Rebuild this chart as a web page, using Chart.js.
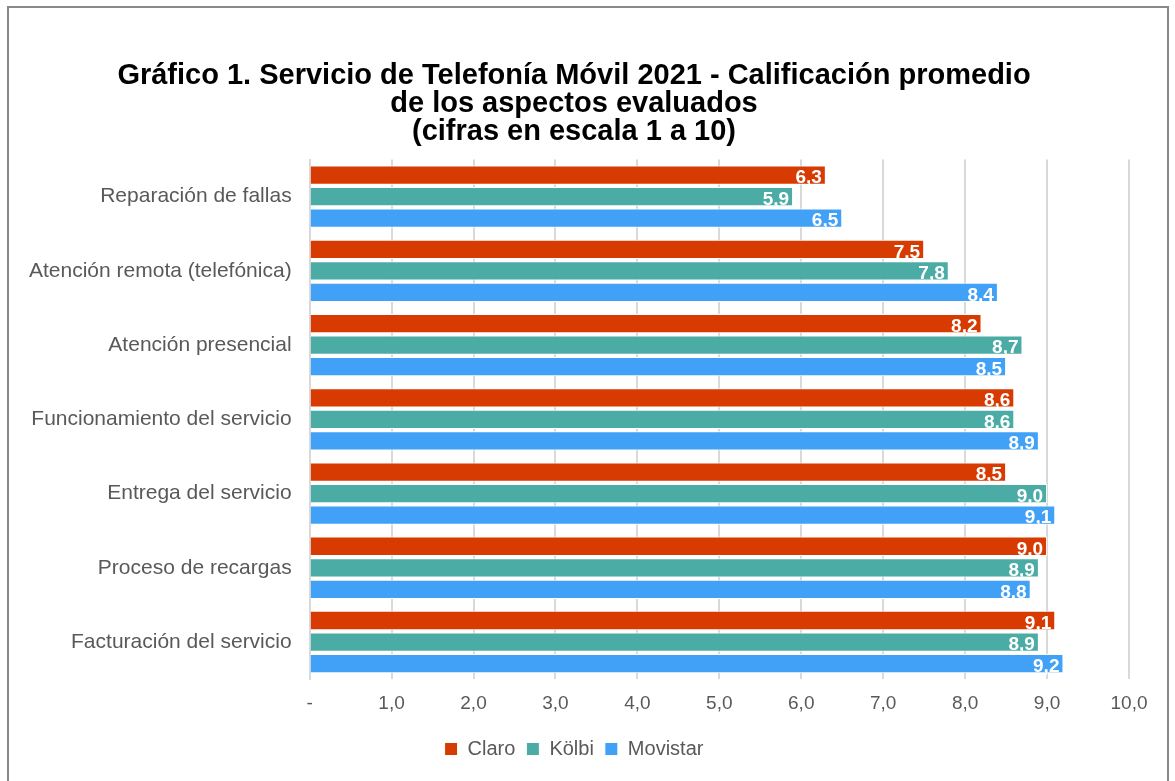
<!DOCTYPE html>
<html>
<head>
<meta charset="utf-8">
<script src="https://cdn.jsdelivr.net/npm/chart.js@4/dist/chart.umd.min.js"></script>
<style>
    body { margin: 0; background: #fff; }
    #wrap { position: relative; width: 1175px; height: 781px; }
    #frame { position: absolute; left: 7px; top: 6px; width: 1158px; height: 800px; border: 2px solid #898989; pointer-events: none; }
</style>
</head>
<body>
<div id="wrap">
    <canvas id="chart_1" width="1175" height="781"></canvas>
    <div id="frame"></div>
</div>
<script>
const categories = [
    'Reparación de fallas',
    'Atención remota (telefónica)',
    'Atención presencial',
    'Funcionamiento del servicio',
    'Entrega del servicio',
    'Proceso de recargas',
    'Facturación del servicio'
];
const claro = [6.3, 7.5, 8.2, 8.6, 8.5, 9.0, 9.1];
const kolbi = [5.9, 7.8, 8.7, 8.6, 9.0, 8.9, 8.9];
const movistar = [6.5, 8.4, 8.5, 8.9, 9.1, 8.8, 9.2];
const titleLines = [
    'Gráfico 1. Servicio de Telefonía Móvil 2021 - Calificación promedio',
    'de los aspectos evaluados',
    '(cifras en escala 1 a 10)'
];

const FONT = '"Liberation Sans", Arial, sans-serif';
const fmt = v => v === 0 ? '-' : v.toFixed(1).replace('.', ',');

// etiquetas blancas al final de cada barra
const barLabels = {
    id: 'barLabels',
    afterDatasetsDraw(chart) {
        const ctx = chart.ctx;
        ctx.save();
        ctx.font = 'bold 19px ' + FONT;
        ctx.fillStyle = '#ffffff';
        ctx.textAlign = 'right';
        ctx.textBaseline = 'middle';
        chart.data.datasets.forEach((ds, i) => {
            chart.getDatasetMeta(i).data.forEach((bar, j) => {
                ctx.fillText(fmt(ds.data[j]), bar.x - 4, bar.y + 3);
            });
        });
        ctx.restore();
    }
};

const serie = (label, data, color) => ({
    label: label,
    data: data,
    backgroundColor: color,
    borderColor: '#ffffff',
    borderWidth: 1,
    categoryPercentage: 0.87,
    barPercentage: 0.9
});

new Chart(document.getElementById('chart_1'), {
    type: 'bar',
    data: {
        labels: categories,
        datasets: [
            serie('Claro', claro, '#D83B01'),
            serie('Kölbi', kolbi, '#4BACA6'),
            serie('Movistar', movistar, '#41A1F7')
        ]
    },
    options: {
        indexAxis: 'y',
        responsive: false,
        animation: false,
        layout: { padding: { left: 19, right: 46, top: 0, bottom: 12 } },
        scales: {
            x: {
                min: 0,
                max: 10,
                ticks: {
                    stepSize: 1,
                    padding: 13,
                    color: '#595959',
                    font: { family: FONT, size: 19 },
                    callback: v => fmt(v)
                },
                grid: { color: '#D9D9D9', lineWidth: 2, drawTicks: false },
                border: { display: false }
            },
            y: {
                offset: true,
                ticks: {
                    padding: 10,
                    color: '#595959',
                    font: { family: FONT, size: 21 }
                },
                grid: { display: false },
                border: { display: true, color: '#D9D9D9', width: 2 }
            }
        },
        plugins: {
            title: {
                display: true,
                text: titleLines,
                color: '#000000',
                font: { family: FONT, size: 29, weight: 'bold', lineHeight: 0.96 },
                padding: { top: 62, bottom: 14 }
            },
            legend: {
                position: 'bottom',
                labels: {
                    boxWidth: 13,
                    boxHeight: 13,
                    padding: 11,
                    color: '#595959',
                    font: { family: FONT, size: 20 }
                }
            },
            tooltip: { enabled: false }
        }
    },
    plugins: [barLabels]
});
</script>
</body>
</html>
